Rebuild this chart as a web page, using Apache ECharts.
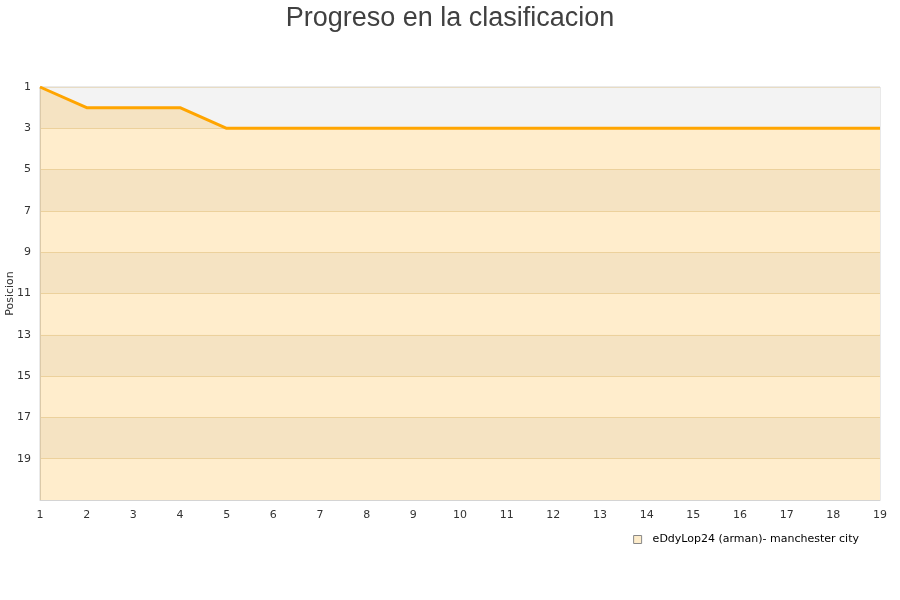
<!DOCTYPE html>
<html><head><meta charset="utf-8">
<script src="https://cdn.jsdelivr.net/npm/echarts@6/dist/echarts.min.js"></script>
<style>html,body{margin:0;padding:0;background:#fff}#c{width:900px;height:600px}</style>
</head><body><div id="c"></div>
<script>
const jornadas = [1,2,3,4,5,6,7,8,9,10,11,12,13,14,15,16,17,18,19];
const posiciones = [1,2,2,2,3,3,3,3,3,3,3,3,3,3,3,3,3,3,3];
const yLabels = [1,3,5,7,9,11,13,15,17,19];
const yTicks = [1,3,5,7,9,11,13,15,17,19,21];
const seriesName = 'eDdyLop24 (arman)- manchester city';
const titleText = 'Progreso en la clasificacion';

const chart = echarts.init(document.getElementById('c'));
chart.setOption({
  animation: false,
  title: { text: titleText, left: 'center', top: 0,
    textStyle: { fontFamily: 'Liberation Sans', fontSize: 27, fontWeight: 'normal', color: '#404040' } },
  grid: { left: 40, right: 20, top: 87, bottom: 100, show: true, borderColor: '#d4d4d4', borderWidth: 1,
    containLabel: false, outerBoundsMode: 'none' },
  legend: { bottom: 50, right: 36, itemWidth: 8, itemHeight: 8, icon: 'rect',
    textStyle: { fontFamily: 'DejaVu Sans', fontSize: 11, color: '#000', padding: [0, 0, 0, 6] },
    data: [{ name: seriesName, itemStyle: { color: '#fdeccb', borderColor: '#888', borderWidth: 1 } }] },
  xAxis: { type: 'category', data: jornadas, boundaryGap: false,
    axisLine: { lineStyle: { color: '#d4d4d4' } }, axisTick: { show: false },
    axisLabel: { fontFamily: 'DejaVu Sans', fontSize: 11, color: '#333', margin: 10 },
    splitLine: { show: false } },
  yAxis: { type: 'value', inverse: true, min: 1, max: 21,
    name: 'Posicion', nameLocation: 'middle', nameGap: 24, nameMoveOverlap: false,
    nameTextStyle: { fontFamily: 'DejaVu Sans', fontSize: 11, color: '#333' },
    axisLine: { show: true, lineStyle: { color: '#d4d4d4' } },
    axisTick: { show: false, customValues: yTicks },
    axisLabel: { customValues: yLabels, fontFamily: 'DejaVu Sans', fontSize: 11, color: '#333', margin: 9 },
    splitLine: { show: true, lineStyle: { color: '#e8dcc4' } },
    splitArea: { show: true, areaStyle: { color: ['#f3f3f3', '#ffffff'] } } },
  series: [{ name: seriesName, type: 'line', data: posiciones, showSymbol: false, symbol: 'none',
    lineStyle: { color: '#ffa500', width: 3 },
    itemStyle: { color: '#ffa500' },
    areaStyle: { color: 'rgba(255,165,0,0.2)', opacity: 1, origin: 'end' } }]
});
</script></body></html>
